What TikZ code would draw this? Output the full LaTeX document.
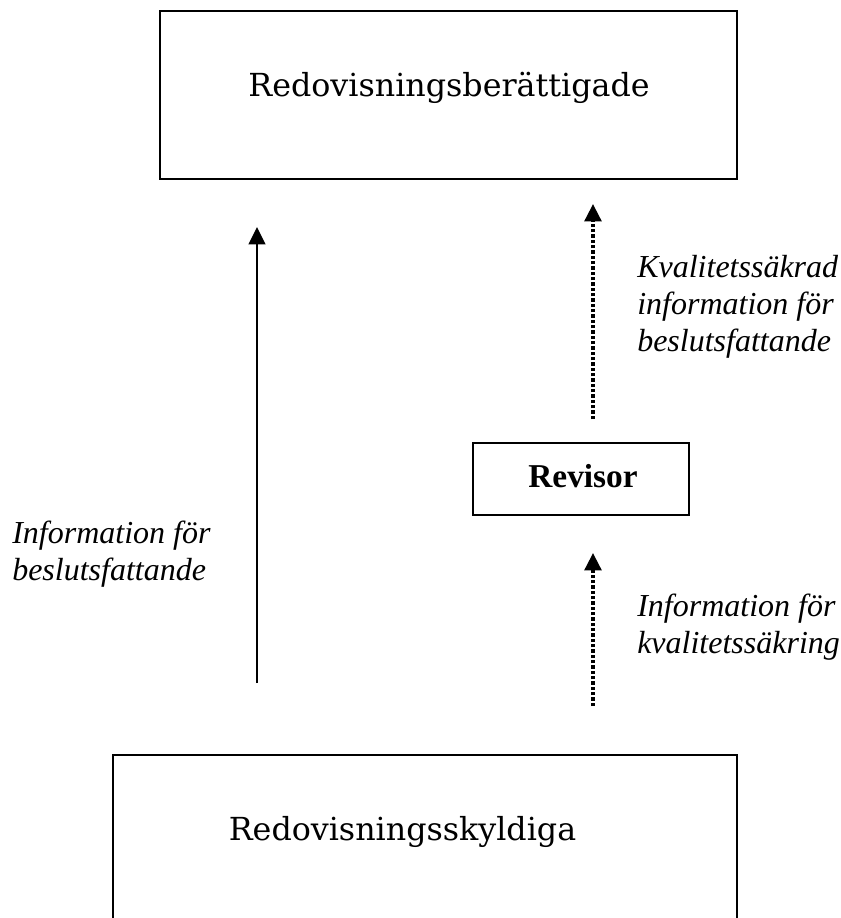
\documentclass[tikz,border=0pt]{standalone}
\usepackage{fontspec}
\setmainfont{Liberation Serif}
\newfontfamily\boxfont{DejaVu Serif}
\usetikzlibrary{arrows.meta}
\begin{document}
\begin{tikzpicture}[x=0.75pt,y=-0.75pt,
  box/.style={draw=black, line width=1.5pt, inner sep=0pt, outer sep=0pt},
  title/.style={font=\boxfont\fontsize{23.8}{28}\selectfont, inner sep=0pt, anchor=base},
  revtext/.style={font=\bfseries\fontsize{25}{30}\selectfont, inner sep=0pt, anchor=base},
  lab/.style={font=\itshape\fontsize{24}{27.75}\selectfont, align=left, inner sep=0pt, anchor=north west},
  solidarrow/.style={line width=1.6pt, -{Triangle[length=13pt,width=12.5pt]}},
  dotarrow/.style={line width=2.6pt, dash pattern=on 2.4pt off 1.6pt, -{Triangle[length=13pt,width=12.5pt]}}]
\useasboundingbox (0,0) rectangle (841,918);
\clip (0,0) rectangle (841,918);

\node[box, minimum width=432.75pt, minimum height=126pt] (top) at (448.5,95) {};
\node[title] (toplab) at (449,96) {Redovisningsberättigade};

\node[box, minimum width=468pt, minimum height=153.75pt] (bot) at (425,857.5) {};
\node[title] (botlab) at (402.5,840) {Redovisningsskyldiga};

\node[box, minimum width=162pt, minimum height=54pt] (rev) at (581,479) {};
\node[revtext] (revlab) at (583,487) {Revisor};

\coordinate (sx) at (257,0);
\coordinate (dx) at (593,0);

\draw[solidarrow, shorten <=54pt, shorten >=36pt] (sx |- bot.north) -- (sx |- top.south);
\draw[dotarrow, shorten <=36.75pt, shorten >=28.5pt] (dx |- bot.north) -- (dx |- rev.south);
\draw[dotarrow, shorten <=18pt, shorten >=18.75pt] (dx |- rev.north) -- (dx |- top.south);

\node[lab] (l1) at (12,521) {Information för\\beslutsfattande};
\node[lab] (l2) at (637,255) {Kvalitetssäkrad\\information för\\beslutsfattande};
\node[lab] (l3) at (637,594) {Information för\\kvalitetssäkring};
\end{tikzpicture}
\end{document}
